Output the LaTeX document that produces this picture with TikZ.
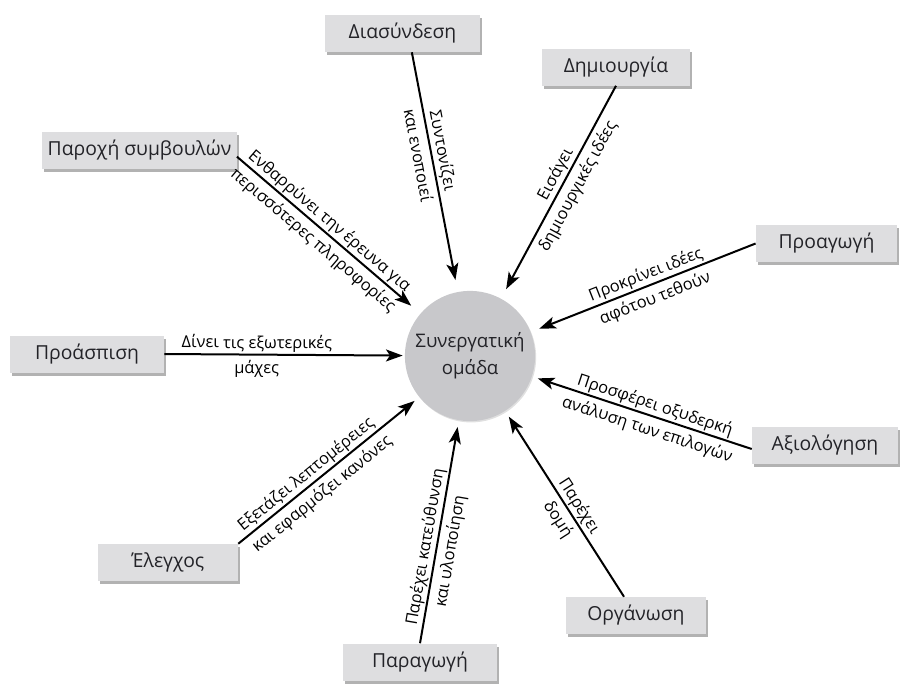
\documentclass[tikz,border=0pt]{standalone}
\usepackage{fontspec}
\setmainfont{Open Sans}
\usetikzlibrary{arrows.meta,shadows}
\definecolor{boxfill}{RGB}{222,222,224}
\definecolor{circfill}{RGB}{200,200,203}
\definecolor{txt}{RGB}{35,35,40}
\begin{document}
\begin{tikzpicture}[x=0.75pt,y=-0.75pt,
  box/.style={fill=boxfill, text=txt, font=\fontsize{14.5}{17}\selectfont,
    minimum height=27.75pt, inner xsep=4pt,
    drop shadow={shadow xshift=1.5pt,shadow yshift=-2.5pt,fill=black!60,opacity=.5}},
  hub/.style={circle, fill=circfill, text=txt, minimum size=93pt, align=center,
    font=\fontsize{14}{20}\selectfont,
    drop shadow={shadow xshift=0.8pt,shadow yshift=-1pt,fill=black!40,opacity=.3}},
  arr/.style={line width=1.5pt, -{Stealth[length=12.5pt,width=9pt,inset=3pt]}},
  lab/.style={sloped, font=\fontsize{12.3}{15}\selectfont, text=black,
    inner sep=0pt, text height=9pt, text depth=3pt},
  up/.style={lab, above=1pt},
  dn/.style={lab, below=4.5pt}]
\useasboundingbox (0,0) rectangle (906,683);

\node[hub] (c) at (470,356) {Συνεργατική\\ομάδα};

\node[box, minimum width=116pt] (ds) at (402.5,33.5) {Διασύνδεση};
\node[box, minimum width=111pt] (dm) at (616,67) {Δημιουργία};
\node[box, minimum width=139pt] (pa) at (139.5,150) {Παροχή συμβουλών};
\node[box, minimum width=106pt] (pg) at (826.5,243.5) {Προαγωγή};
\node[box, minimum width=115.5pt] (pr) at (87,354) {Προάσπιση};
\node[box, minimum width=109.5pt] (ax) at (825,445) {Αξιολόγηση};
\node[box, minimum width=105pt] (el) at (168,562.5) {Έλεγχος};
\node[box, minimum width=105pt] (or) at (636,615.5) {Οργάνωση};
\node[box, minimum width=115.5pt] (pw) at (420,662) {Παραγωγή};

\draw[arr, shorten >=9pt] ([xshift=7pt]ds.south) -- (c)
  node[up, pos=.42] {Συντονίζει} node[dn, pos=.42] {και ενοποιεί};
\draw[arr, shorten >=8pt] (dm.south) -- (c)
  node[up, pos=.44] {Εισάγει} node[dn, pos=.44] {δημιουργικές ιδέες};
\draw[arr, shorten >=9pt] ([yshift=-5pt]pa.east) -- (c)
  node[up, pos=.465] {Ενθαρρύνει την έρευνα για} node[dn, pos=.465] {περισσότερες πληροφορίες};
\draw[arr, shorten >=6.75pt] (pg.west) -- (c)
  node[up, pos=.47] {Προκρίνει ιδέες} node[dn, pos=.47] {αφότου τεθούν};
\draw[arr, shorten >=1.5pt] (pr.east) -- (c)
  node[up, pos=.385] {Δίνει τις εξωτερικές} node[dn, pos=.385] {μάχες};
\draw[arr, shorten >=4.5pt] ([yshift=-3pt]ax.west) -- (c)
  node[up, pos=.456] {Προσφέρει οξυδερκή} node[dn, pos=.456] {ανάλυση των επιλογών};
\draw[arr, shorten >=4.5pt] (el.north east) -- (c)
  node[up, pos=.414] {Εξετάζει λεπτομέρειες} node[dn, pos=.414] {και εφαρμόζει κανόνες};
\draw[arr, shorten >=5pt] (pw.north) -- (c)
  node[up, pos=.424] {Παρέχει κατεύθυνση} node[dn, pos=.424] {και υλοποίηση};
\draw[arr, shorten >=5pt] (or) -- (c)
  node[up, pos=.456] {Παρέχει} node[dn, pos=.456] {δομή};
\end{tikzpicture}
\end{document}
